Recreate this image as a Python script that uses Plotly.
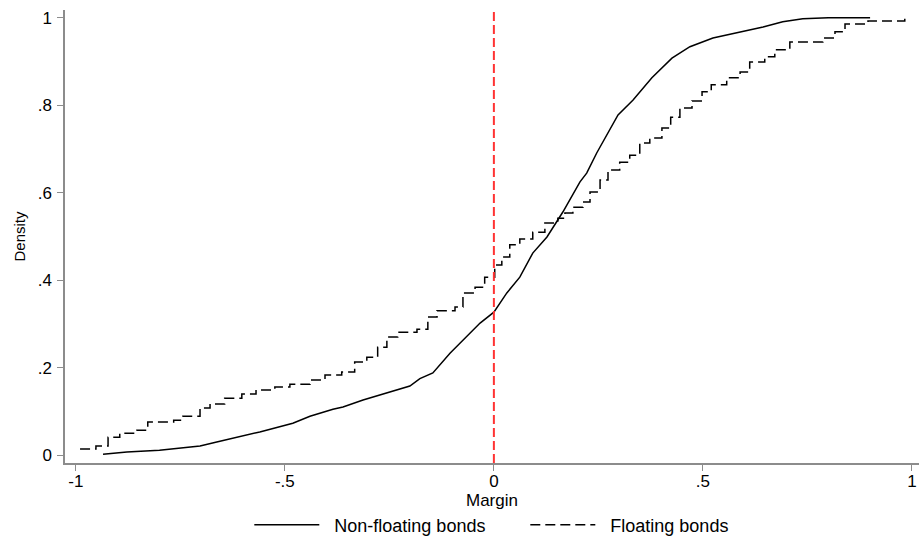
import plotly.graph_objects as go

# Non-floating bonds (smooth cumulative curve)
nonfloat_x = [-0.935, -0.878, -0.80, -0.703, -0.663, -0.615, -0.56, -0.481, -0.44, -0.385,
              -0.361, -0.313, -0.249, -0.201, -0.177, -0.146, -0.105, -0.065, -0.033, 0.0,
              0.031, 0.062, 0.093, 0.127, 0.165, 0.206, 0.222, 0.246, 0.297, 0.333, 0.378,
              0.426, 0.469, 0.524, 0.596, 0.644, 0.691, 0.739, 0.80, 0.9]
nonfloat_y = [0.002, 0.007, 0.011, 0.021, 0.030, 0.041, 0.053, 0.073, 0.089, 0.105,
              0.110, 0.126, 0.144, 0.158, 0.175, 0.188, 0.233, 0.270, 0.302, 0.327,
              0.371, 0.407, 0.462, 0.499, 0.556, 0.625, 0.645, 0.691, 0.778, 0.812, 0.863,
              0.908, 0.934, 0.954, 0.968, 0.979, 0.991, 0.998, 1.0, 1.0]

# Floating bonds (step function)
float_x = [-0.99, -0.952, -0.923, -0.895, -0.854, -0.828, -0.766, -0.744, -0.703, -0.679,
           -0.644, -0.603, -0.569, -0.524, -0.488, -0.44, -0.404, -0.364, -0.333, -0.304,
           -0.278, -0.256, -0.23, -0.184, -0.158, -0.136, -0.093, -0.074, -0.045, -0.022,
           0.002, 0.019, 0.038, 0.062, 0.093, 0.122, 0.153, 0.17, 0.189, 0.213,
           0.23, 0.254, 0.273, 0.301, 0.325, 0.349, 0.373, 0.402, 0.423, 0.445,
           0.474, 0.498, 0.52, 0.557, 0.589, 0.612, 0.648, 0.672, 0.708, 0.787,
           0.816, 0.84, 0.895, 0.983]
float_y = [0.014, 0.021, 0.041, 0.050, 0.057, 0.076, 0.080, 0.089, 0.108, 0.117,
           0.130, 0.140, 0.149, 0.156, 0.162, 0.172, 0.183, 0.190, 0.213, 0.224,
           0.247, 0.270, 0.281, 0.288, 0.316, 0.330, 0.339, 0.371, 0.384, 0.407,
           0.435, 0.453, 0.481, 0.494, 0.510, 0.531, 0.542, 0.554, 0.567, 0.579,
           0.602, 0.629, 0.652, 0.670, 0.686, 0.714, 0.725, 0.748, 0.773, 0.794,
           0.810, 0.831, 0.847, 0.863, 0.876, 0.899, 0.911, 0.927, 0.945, 0.954,
           0.968, 0.986, 0.993, 1.0]

x_tickvals = [-1, -0.5, 0, 0.5, 1]
x_ticktext = ["-1", "-.5", "0", ".5", "1"]
y_tickvals = [0, 0.2, 0.4, 0.6, 0.8, 1]
y_ticktext = ["0", ".2", ".4", ".6", ".8", "1"]
series_names = ["Non-floating bonds", "Floating bonds"]
x_title = "Margin"
y_title = "Density"
ref_x = 0

FONT = "Liberation Sans, Arial, sans-serif"
AXIS_GRAY = "#8c8c8c"
PAD = "\u00a0\u00a0"

fig = go.Figure()
fig.add_trace(go.Scatter(x=nonfloat_x, y=nonfloat_y, mode="lines", name=PAD + series_names[0],
                         line=dict(color="black", width=1.5)))
fig.add_trace(go.Scatter(x=float_x, y=float_y, mode="lines", name=PAD + series_names[1],
                         line=dict(color="black", width=1.5, dash="10px,5px", shape="hv")))

fig.add_shape(type="line", xref="x", yref="paper", x0=ref_x, x1=ref_x, y0=0, y1=1,
              line=dict(color="#ff3333", width=2, dash="9px,4px"))

fig.add_annotation(text=x_title, xref="paper", yref="paper", x=0.5, y=-0.083,
                   xanchor="center", yanchor="middle", showarrow=False,
                   font=dict(size=17, color="black"))

fig.update_layout(
    width=920, height=541,
    margin=dict(l=65, r=1, t=10, b=78, autoexpand=False),
    paper_bgcolor="white", plot_bgcolor="white",
    font=dict(family=FONT, size=17, color="black"),
    showlegend=True,
    legend=dict(orientation="h", x=0.539, xanchor="center", y=-0.137, yanchor="middle",
                font=dict(size=18), itemwidth=65, entrywidth=196, entrywidthmode="pixels",
                bgcolor="rgba(0,0,0,0)"),
    xaxis=dict(range=[-1.026, 1.017], tickvals=x_tickvals, ticktext=x_ticktext,
               automargin=False, ticklabelstandoff=-4,
               showgrid=False, zeroline=False, showline=True, linecolor=AXIS_GRAY, linewidth=1.5,
               ticks="outside", ticklen=6, tickcolor=AXIS_GRAY, tickwidth=1,
               tickfont=dict(size=17)),
    yaxis=dict(range=[-0.018, 1.018], tickvals=y_tickvals, ticktext=y_ticktext,
               automargin=False, ticklabelstandoff=2,
               showgrid=False, zeroline=False, showline=True, linecolor=AXIS_GRAY, linewidth=1.5,
               ticks="outside", ticklen=6, tickcolor=AXIS_GRAY, tickwidth=1,
               tickfont=dict(size=17),
               title=dict(text=y_title, font=dict(size=15), standoff=8)),
)

fig.write_html("out.html", config={"displayModeBar": False},
               post_script="document.body.style.margin='0';document.body.style.overflow='hidden';")
